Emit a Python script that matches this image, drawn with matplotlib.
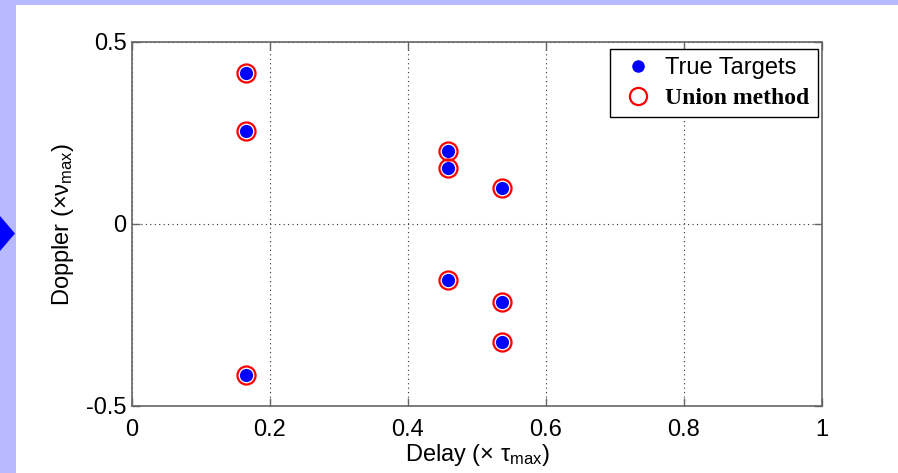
import numpy as np
import matplotlib
matplotlib.use('Agg')
import matplotlib.pyplot as plt
from matplotlib.patches import Rectangle, Polygon
from matplotlib.font_manager import FontProperties

plt.rcParams['font.family'] = ['Liberation Sans', 'DejaVu Sans']
plt.rcParams['mathtext.fontset'] = 'custom'
plt.rcParams['mathtext.rm'] = 'Liberation Sans'
plt.rcParams['mathtext.it'] = 'Liberation Sans'

# target positions (delay, doppler)
delay = [0.165, 0.165, 0.165, 0.458, 0.458, 0.458, 0.536, 0.536, 0.536]
doppler = [0.415, 0.255, -0.415, 0.2, 0.155, -0.155, 0.1, -0.215, -0.325]

# recovered positions from the union method
delay_est = delay
doppler_est = doppler

xticks = [0, 0.2, 0.4, 0.6, 0.8, 1]
xtick_labels = ['0', '0.2', '0.4', '0.6', '0.8', '1']
yticks = [-0.5, 0, 0.5]
ytick_labels = ['-0.5', '0', '0.5']

FS = 17

fig = plt.figure(figsize=(8.98, 4.73), dpi=100)
fig.patch.set_facecolor('white')

# slide border and bullet
lav = '#b9b9ff'
fig.patches.append(Rectangle((0, 0), 16/898, 1, transform=fig.transFigure,
                             facecolor=lav, edgecolor='none', zorder=0))
fig.patches.append(Rectangle((0, 1 - 5/473), 1, 5/473, transform=fig.transFigure,
                             facecolor=lav, edgecolor='none', zorder=0))
fig.patches.append(Polygon([(0, 1 - 216/473), (0, 1 - 251/473), (15/898, 1 - 233.5/473)],
                           closed=True, transform=fig.transFigure,
                           facecolor='#0000ff', edgecolor='none', zorder=1))

ax = fig.add_axes([132/898, 1 - 406/473, 690/898, 364/473])

ax.plot(delay, doppler, 'o', color='#0000ff', markersize=9.5,
        markeredgewidth=0, label='True Targets', zorder=3)
ax.plot(delay_est, doppler_est, 'o', markerfacecolor='none', markeredgecolor='#ff0000',
        markersize=13, markeredgewidth=1.6, label='Union method', zorder=4)

ax.set_xlim(0, 1)
ax.set_ylim(-0.5, 0.5)
ax.set_xticks(xticks)
ax.set_xticklabels(xtick_labels)
ax.set_yticks(yticks)
ax.set_yticklabels(ytick_labels)
ax.tick_params(direction='in', top=True, right=True, length=6, width=1,
               color='0.4', labelsize=FS)
ax.tick_params(axis='x', pad=9)
ax.tick_params(axis='y', pad=4)
for s in ax.spines.values():
    s.set_color('0.4')
    s.set_linewidth(1.2)
ax.grid(True, linestyle=(0, (1, 3)), color='0.2', linewidth=0.8)

ax.set_xlabel(r'Delay ($\times$ $\tau_{\rm max}$)', fontsize=FS, labelpad=1)
ax.set_ylabel(r'Doppler ($\times\nu_{\rm max}$)', fontsize=FS, labelpad=7)

leg = ax.legend(loc='upper right', bbox_to_anchor=(0.9935, 0.981), fancybox=False,
                framealpha=1, edgecolor='black', fontsize=FS, borderpad=0.35,
                handlelength=1.75, handletextpad=0.25, labelspacing=0.35,
                borderaxespad=0, markerscale=0.95)
leg.get_frame().set_linewidth(1.0)
leg.get_texts()[1].set_fontproperties(
    FontProperties(family='Liberation Serif', weight='bold', size=FS))

fig.savefig('out.png', dpi=100, facecolor=fig.get_facecolor())
